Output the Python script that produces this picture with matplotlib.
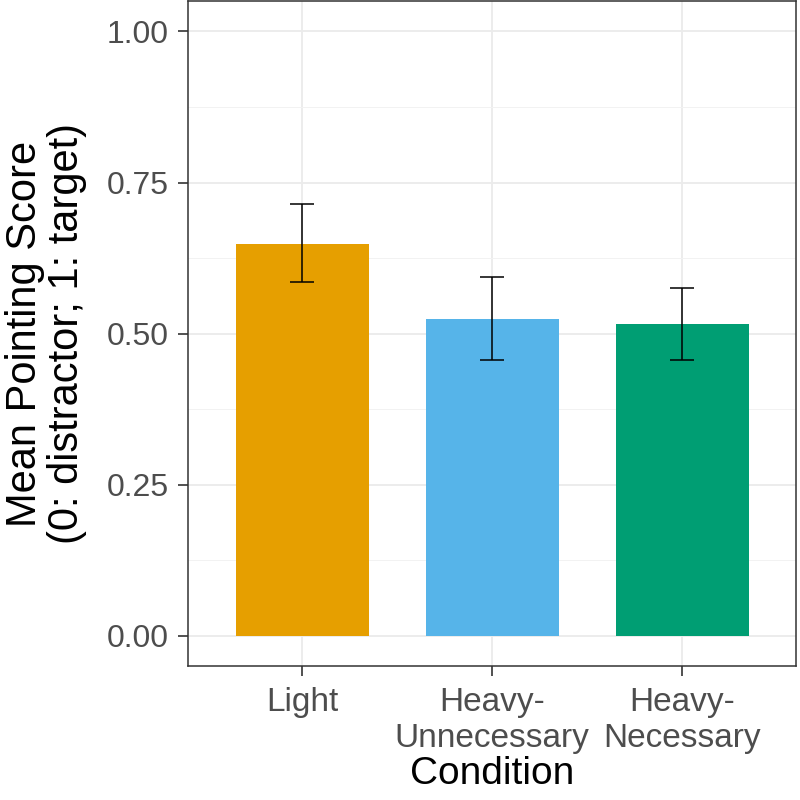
import matplotlib
matplotlib.use("Agg")
import matplotlib.pyplot as plt
from matplotlib.ticker import MultipleLocator

conditions = ["Light", "Heavy-\nUnnecessary", "Heavy-\nNecessary"]
mean_score = [0.649, 0.524, 0.516]
ci_low = [0.586, 0.456, 0.456]
ci_high = [0.714, 0.593, 0.576]
bar_colors = ["#E69F00", "#56B4E9", "#009E73"]

plt.rcParams['font.family'] = ['Liberation Sans', 'DejaVu Sans']

fig = plt.figure(figsize=(8, 8), dpi=100)
ax = fig.add_axes([0.235, 0.1675, 0.76, 0.831])

x = list(range(1, len(conditions) + 1))
ax.bar(x, mean_score, width=0.7, color=bar_colors, zorder=2)
yerr = [[m - lo for m, lo in zip(mean_score, ci_low)],
        [hi - m for m, hi in zip(mean_score, ci_high)]]
ax.errorbar(x, mean_score, yerr=yerr, fmt='none', ecolor='black',
            elinewidth=1.1, capsize=8.5, capthick=1.1, zorder=3)

ax.set_xlim(0.4, 3.6)
ax.set_ylim(-0.05, 1.05)
ax.set_yticks([0, 0.25, 0.5, 0.75, 1.0])
ax.set_yticklabels(["0.00", "0.25", "0.50", "0.75", "1.00"])
ax.yaxis.set_minor_locator(MultipleLocator(0.125))
ax.set_xticks(x)
ax.set_xticklabels(conditions, linespacing=1.2)

ax.grid(True, which='major', color='#EBEBEB', linewidth=1.3, zorder=0)
ax.grid(True, which='minor', axis='y', color='#F2F2F2', linewidth=0.7, zorder=0)
ax.set_axisbelow(True)
ax.tick_params(which='minor', length=0)
ax.tick_params(which='major', length=7, width=1.2, color='#333333',
               labelcolor='#4D4D4D')
ax.tick_params(axis='y', labelsize=23, pad=7)
ax.tick_params(axis='x', labelsize=24, pad=8)
for s in ax.spines.values():
    s.set_color('#333333')
    s.set_linewidth(1.1)

ax.set_xlabel("Condition", fontsize=28, labelpad=2)
ax.set_ylabel("Mean Pointing Score\n(0: distractor; 1: target)", fontsize=30,
              labelpad=14, linespacing=1.05)

fig.savefig("out.png", dpi=100)
